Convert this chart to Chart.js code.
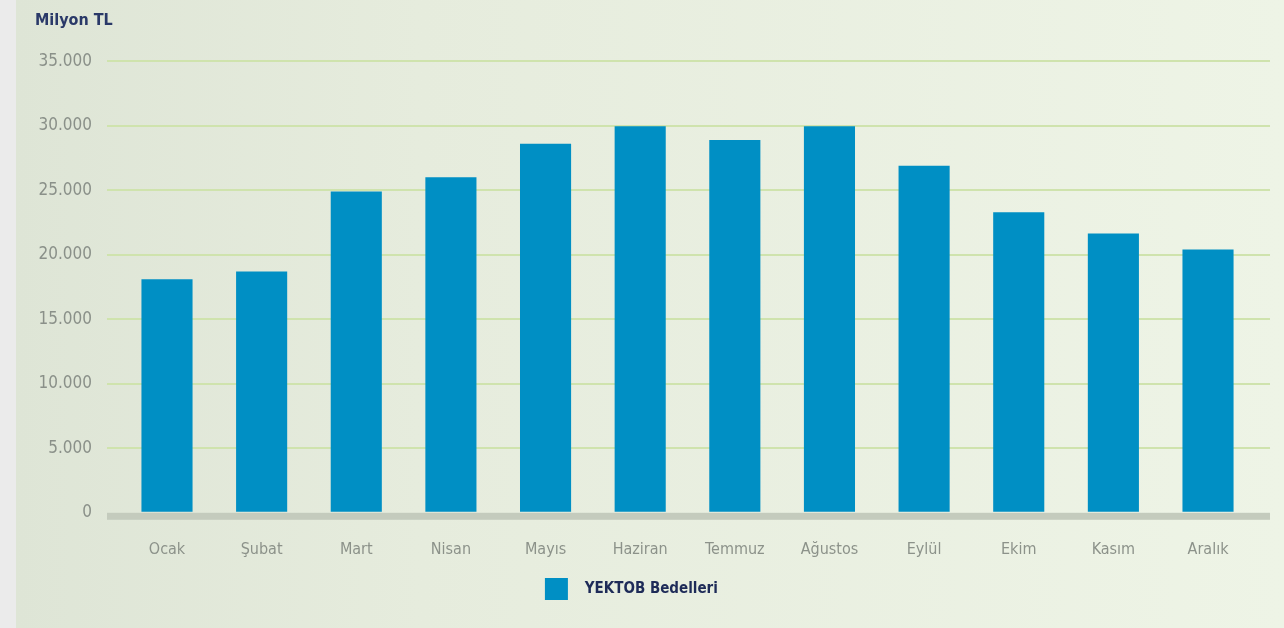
<!DOCTYPE html>
<html lang="tr">
<head>
<meta charset="utf-8">
<title>YEKTOB Bedelleri</title>
<script src="https://cdn.jsdelivr.net/npm/chart.js@4"></script>
<style>
  html, body { margin: 0; padding: 0; }
  body {
    width: 1284px;
    height: 628px;
    overflow: hidden;
    background: linear-gradient(90deg, #ebebeb 0, #ebebeb 16px, #dee5d6 16px, #e6ecdd 420px, #eef4e6 1284px);
  }
  canvas { display: block; }
</style>
</head>
<body>
<canvas id="chart" width="1284" height="628"></canvas>
<script>
const months = ["Ocak", "Şubat", "Mart", "Nisan", "Mayıs", "Haziran", "Temmuz", "Ağustos", "Eylül", "Ekim", "Kasım", "Aralık"]
const values = [18100, 18700, 24900, 26000, 28600, 29950, 28900, 29950, 26900, 23300, 21650, 20400]
const yTicks = [0, 5000, 10000, 15000, 20000, 25000, 30000, 35000]
const unitLabel = "Milyon TL"
const seriesLabel = "YEKTOB Bedelleri"

const fontFamily = "'DejaVu Sans Condensed', 'Liberation Sans Narrow', sans-serif"

// thick grey line under the bars, at the zero value
const baseline = {
  id: "baseline",
  beforeDatasetsDraw(chart) {
    const { ctx, chartArea } = chart
    const y0 = chart.scales.y.getPixelForValue(0)
    ctx.save()
    ctx.fillStyle = "#c4cbbd"
    ctx.fillRect(chartArea.left, y0, chartArea.right - chartArea.left, 7)
    ctx.restore()
  }
}

function formatTR(v) {
  return v.toString().replace(/\B(?=(\d{3})+(?!\d))/g, ".")
}

const data = {
  datasets: [{
    label: seriesLabel,
    data: values.map((v, i) => ({ x: i, y: v })),
    backgroundColor: "#008fc4",
    borderWidth: 0,
    barPercentage: 0.54,
    categoryPercentage: 1
  }]
}

const config = {
  type: "bar",
  data: data,
  plugins: [baseline],
  options: {
    responsive: false,
    animation: false,
    layout: {
      padding: { left: 35, right: 14, top: 10, bottom: 18 }
    },
    scales: {
      x: {
        type: "linear",
        offset: false,
        min: -0.634,
        max: 11.655,
        afterBuildTicks: (scale) => {
          scale.ticks = months.map((m, i) => ({ value: i }))
        },
        // pull the legend closer to the month labels
        afterFit: (scale) => {
          scale.height -= 13
        },
        grid: { display: false, drawTicks: false },
        border: { display: false },
        ticks: {
          autoSkip: false,
          maxRotation: 0,
          padding: 27,
          color: "#8c928a",
          font: { family: fontFamily, size: 16 },
          callback: (value) => months[value]
        }
      },
      y: {
        min: 0,
        max: 35000,
        afterBuildTicks: (scale) => {
          scale.ticks = yTicks.map((v) => ({ value: v }))
        },
        afterFit: (scale) => {
          scale.width = 72
        },
        grid: {
          drawTicks: false,
          lineWidth: 2,
          color: (ctx) => ctx.tick && ctx.tick.value === 0 ? "rgba(0,0,0,0)" : "#cfe3ad"
        },
        border: { display: false },
        ticks: {
          padding: 15,
          color: "#8a9089",
          font: { family: fontFamily, size: 17 },
          callback: (value) => formatTR(value)
        }
      }
    },
    plugins: {
      title: {
        display: true,
        text: unitLabel,
        align: "start",
        color: "#2a3968",
        font: { family: fontFamily, size: 16, weight: "bold" },
        padding: { top: 1, bottom: 31 }
      },
      legend: {
        position: "bottom",
        labels: {
          boxWidth: 23,
          boxHeight: 22,
          padding: 5,
          color: "#1e2b58",
          font: { family: fontFamily, size: 15, weight: "bold" },
          generateLabels: (chart) => {
            const items = Chart.defaults.plugins.legend.labels.generateLabels(chart)
            // extra spaces: wider gap after the box, and the item sits a bit left of centre
            items.forEach((item) => {
              item.text = "  " + item.text + "\u00a0".repeat(9)
              item.lineWidth = 0
            })
            return items
          }
        }
      },
      tooltip: { enabled: false }
    }
  }
}

document.addEventListener("DOMContentLoaded", () => {
  new Chart(document.querySelector("#chart"), config)
})
</script>
</body>
</html>
